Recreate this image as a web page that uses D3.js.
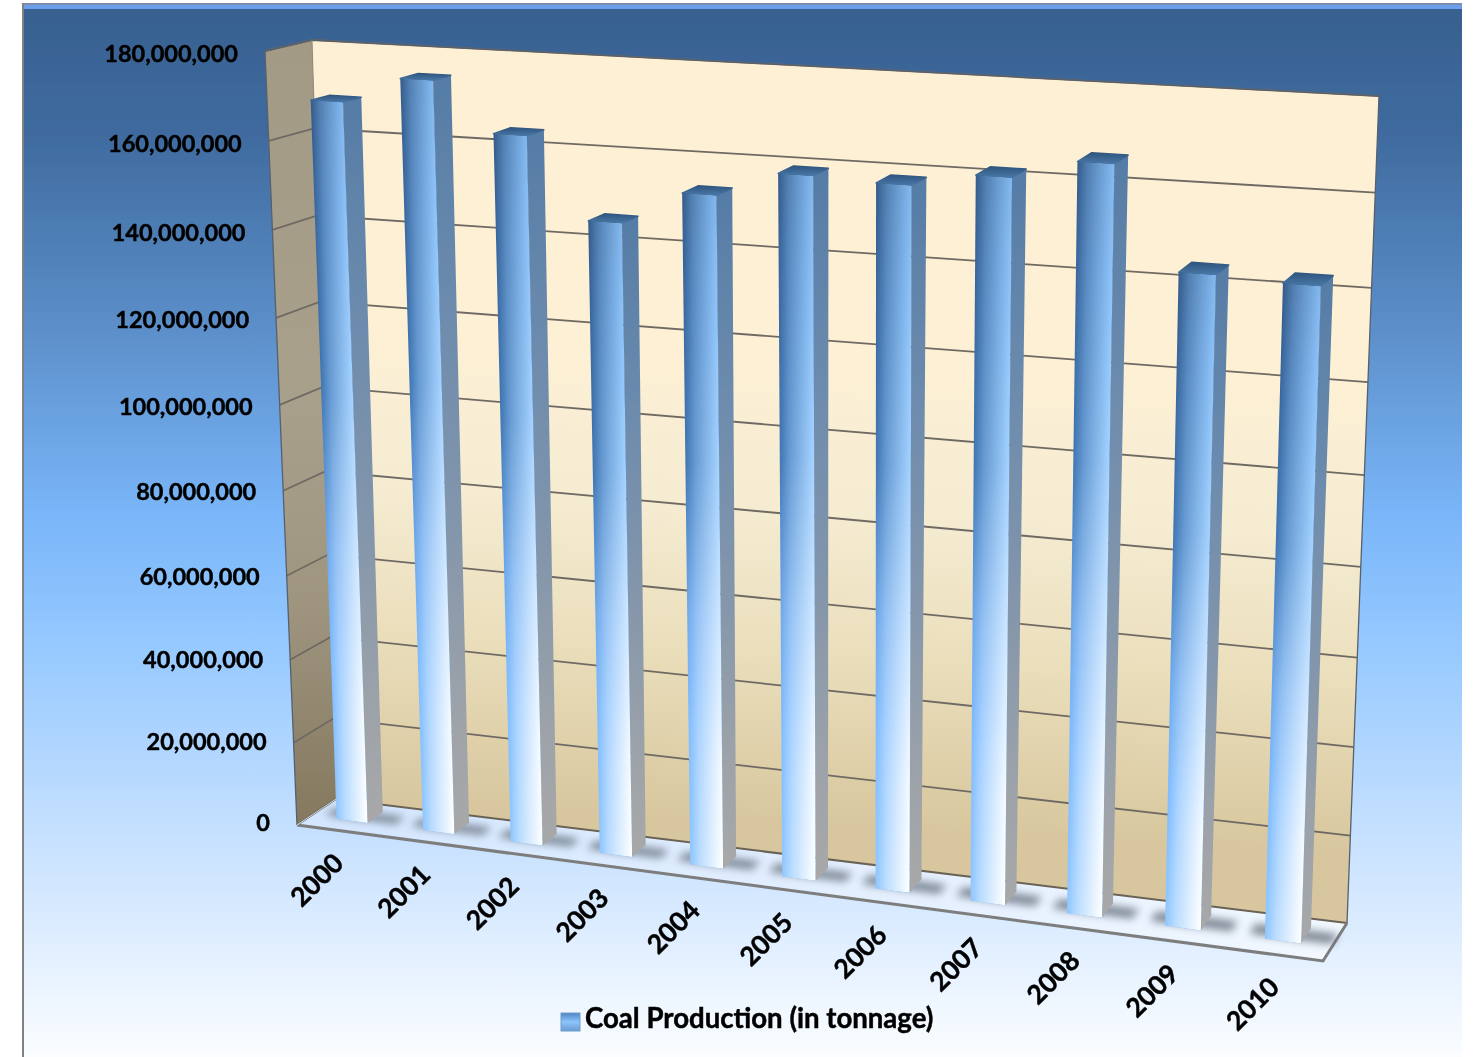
<!DOCTYPE html>
<html><head><meta charset="utf-8">
<script src="https://cdn.jsdelivr.net/npm/d3@7"></script>
<style>html,body{margin:0;padding:0;background:#fff;overflow:hidden}svg{display:block}
text{font-family:Lato,Carlito,sans-serif;font-weight:700;fill:#000;stroke:#000;stroke-width:.45px}</style>
</head><body><svg id="c" width="1477" height="1057"></svg>
<script>
const years = ["2000","2001","2002","2003","2004","2005","2006","2007","2008","2009","2010"];
const production = [168500000,174600000,163700000,145900000,153500000,159200000,158600000,161700000,166000000,144200000,143500000];
const yTicks = [0,20000000,40000000,60000000,80000000,100000000,120000000,140000000,160000000,180000000];
const seriesName = "Coal Production (in tonnage)";

const backQuad  = [[336,799],[1347,923],[1379,96],[312,40]];
const frontQuad = [[297,825],[1323,961],[1347,120],[265,51]];
const barDepth = [0.36,0.76];

function homography(q){
  const [[x0,y0],[x1,y1],[x2,y2],[x3,y3]] = q;
  const dx1=x1-x2, dx2=x3-x2, sx=x0-x1+x2-x3, dy1=y1-y2, dy2=y3-y2, sy=y0-y1+y2-y3;
  const den=dx1*dy2-dx2*dy1;
  const g=(sx*dy2-dx2*sy)/den, h=(dx1*sy-sx*dy1)/den;
  const a=x1-x0+g*x1, b=x3-x0+h*x3, d=y1-y0+g*y1, e=y3-y0+h*y3;
  return (u,v)=>{const w=g*u+h*v+1; return [(a*u+b*v+x0)/w,(d*u+e*v+y0)/w];};
}
const hBack=homography(backQuad), hFront=homography(frontQuad);
const P=(u,v,d)=>{const f=hFront(u,v),b=hBack(u,v);return [f[0]+(b[0]-f[0])*d,f[1]+(b[1]-f[1])*d];};

const xs=d3.scaleBand().domain(years).range([0,1]).paddingInner(0.64).paddingOuter(0.3);
const ys=d3.scaleLinear().domain([0,180000000]).range([0,1]);
const fmt=d3.format(",");
const pts=a=>a.map(p=>p.map(n=>n.toFixed(2)).join(",")).join(" ");

const svg=d3.select("#c"), defs=svg.append("defs");
function grad(id,stops,attrs){
  const g=defs.append("linearGradient").attr("id",id);
  Object.entries(attrs||{x1:0,y1:0,x2:0,y2:1}).forEach(([k,v])=>g.attr(k,v));
  stops.forEach(([o,c,op])=>{const s=g.append("stop").attr("offset",o).attr("stop-color",c); if(op!=null)s.attr("stop-opacity",op);});
  return `url(#${id})`;
}
function tilted(id,stops,tl,tr,bl){
  const dx=tr[0]-tl[0],dy=tr[1]-tl[1],L=Math.hypot(dx,dy),nx=-dy/L,ny=dx/L;
  const t=(bl[0]-tl[0])*nx+(bl[1]-tl[1])*ny;
  return grad(id,stops,{gradientUnits:"userSpaceOnUse",x1:tl[0],y1:tl[1],x2:tl[0]+nx*t,y2:tl[1]+ny*t});
}
const blur=defs.append("filter").attr("id","soft")
  .attr("filterUnits","userSpaceOnUse").attr("x",0).attr("y",0).attr("width",1477).attr("height",1057);
blur.append("feGaussianBlur").attr("stdDeviation",0.7);
defs.append("filter").attr("id","shadow").attr("filterUnits","userSpaceOnUse").attr("x",250).attr("y",760).attr("width",1150).attr("height",240)
  .append("feGaussianBlur").attr("stdDeviation",4.5);

// panel
const bg=grad("bg",[[0,"#37608f"],[0.12,"#3f6b9f"],[0.3,"#5b8ec8"],[0.48,"#79b5f8"],[0.6,"#94c8ff"],[0.8,"#c9e2ff"],[1,"#fbfdff"]]);
const root=svg.append("g").attr("filter","url(#soft)");
root.append("rect").attr("x",23).attr("y",9).attr("width",1439).attr("height",1048).attr("fill",bg);
root.append("rect").attr("x",22).attr("y",3).attr("width",1440).attr("height",2).attr("fill","#7d8cab");
root.append("rect").attr("x",23).attr("y",5).attr("width",1439).attr("height",4).attr("fill","#6a9fee");
root.append("rect").attr("x",22).attr("y",3).attr("width",2).attr("height",1054).attr("fill","#808080");

// walls
const wallBack=tilted("wb",[[0,"#fef0d5"],[0.38,"#fdf0d5"],[0.58,"#f5ecd2"],[0.78,"#eadebb"],[1,"#d8c79e"]],backQuad[3],backQuad[2],backQuad[0]);
root.append("polygon").attr("points",pts(backQuad)).attr("fill",wallBack);
const wallLeft=grad("wl",[[0,"#a39a86"],[0.45,"#a9a08c"],[0.72,"#9f957f"],[1,"#84785e"]]);
root.append("polygon").attr("points",pts([frontQuad[0],backQuad[0],backQuad[3],frontQuad[3]])).attr("fill",wallLeft);
const floorFill=grad("fl",[[0,"#d3e6ff"],[1,"#f2f8ff"]],{x1:0,y1:0,x2:1,y2:0});
root.append("polygon").attr("points",pts([frontQuad[0],frontQuad[1],backQuad[1],backQuad[0]])).attr("fill",floorFill);

// gridlines
yTicks.forEach(t=>{
  const v=ys(t);
  root.append("path").attr("d",d3.line()([P(0,v,0),P(0,v,1),P(1,v,1)]))
    .attr("fill","none").attr("stroke",t===0?"#6a6254":"#6e6a64").attr("stroke-width",t===0?2:1.8);
});
// frame edges
root.append("path").attr("d",d3.line()([P(0,0,0),P(0,1,0),P(0,1,1),P(1,1,1),P(1,0,1)])).attr("fill","none").attr("stroke","#56606e").attr("stroke-width",1.3);
root.append("path").attr("d",d3.line()([P(0,0,1),P(0,1,1)])).attr("fill","none").attr("stroke","#8d8676").attr("stroke-width",.8);
root.append("path").attr("d",d3.line()([P(0,0,0),P(1,0,0),P(1,0,1)])).attr("fill","none").attr("stroke","#7d7d7d").attr("stroke-width",3);
root.append("path").attr("d",d3.line()([P(0,0,0),P(0,0,1)])).attr("fill","none").attr("stroke","#cfe0f2").attr("stroke-width",1);

// bar shading
const frontL=grad("fL",[[0,"#345b8b"],[0.12,"#37649a"],[0.4,"#3f76b4"],[0.62,"#6ea9ec"],[0.78,"#7fbcff"],[1,"#8fc7ff"]]);
const frontR=grad("fR",[[0,"#80b6ec"],[0.15,"#8cc2f8"],[0.4,"#a3d1ff"],[0.65,"#d3e9ff"],[0.85,"#f5faff"],[1,"#ffffff"]]);
const side=grad("sd",[[0,"#557ca6"],[0.3,"#6c8bad"],[0.6,"#8496ab"],[0.85,"#9ea3a9"],[1,"#a8a8a8"]]);
const topF=grad("tp",[[0,"#2f567f"],[1,"#4a78a8"]]);

production.forEach((val,i)=>{
  const u0=xs(years[i]),u1=u0+xs.bandwidth(),[d0,d1]=barDepth;
  root.append("polygon").attr("class","shadow")
    .attr("points",pts([P(u0-0.016,0,d0+0.08),P(u1+0.026,0,d0+0.08),P(u1+0.026,0,d1-0.06),P(u0-0.016,0,d1-0.06)]))
    .attr("fill","#68727f").attr("opacity",0.85).attr("filter","url(#shadow)");
});
production.forEach((val,i)=>{
  const u0=xs(years[i]),u1=u0+xs.bandwidth(),[d0,d1]=barDepth,v=ys(val);
  const fl=P(u0,0,d0),fr=P(u1,0,d0),tl=P(u0,v,d0),tr=P(u1,v,d0),br=P(u1,0,d1),trb=P(u1,v,d1),tlb=P(u0,v,d1);
  const g=root.append("g").attr("class","bar");
  g.append("polygon").attr("points",pts([fr,br,trb,tr])).attr("fill",side);
  g.append("polygon").attr("points",pts([tl,tr,trb,tlb])).attr("fill",topF).attr("stroke",topF).attr("stroke-width",1.5).attr("stroke-linejoin","round");
  const poly=pts([fl,fr,tr,tl]);
  g.append("polygon").attr("points",poly).attr("fill",frontL);
  const ax=tl[0]-fl[0],ay=tl[1]-fl[1],L=Math.hypot(ax,ay),nx=-ay/L,ny=ax/L;
  const w=(fr[0]-fl[0])*nx+(fr[1]-fl[1])*ny;
  const hg=grad("h"+i,[[0,"#000"],[0.3,"#666"],[0.6,"#aaa"],[1,"#fff"]],
    {gradientUnits:"userSpaceOnUse",x1:fl[0],y1:fl[1],x2:fl[0]+nx*w,y2:fl[1]+ny*w});
  const m=defs.append("mask").attr("id","m"+i).attr("maskUnits","userSpaceOnUse").attr("x",0).attr("y",0).attr("width",1477).attr("height",1057);
  m.append("polygon").attr("points",poly).attr("fill",hg);
  g.append("polygon").attr("points",poly).attr("fill",frontR).attr("mask",`url(#m${i})`);
});

// value axis labels
yTicks.forEach(t=>{
  const v=ys(t),p=P(0,v,0);
  root.append("text").attr("x",p[0]-27).attr("y",p[1]+2-5*(1-v)*(1-v)).attr("text-anchor","end").attr("dominant-baseline","central")
    .attr("font-size",23.5).text(fmt(t));
});
// category labels
years.forEach(y=>{
  const p=P(xs(y)+xs.bandwidth()/2,0,0), x=p[0]-22, yy=p[1]+49;
  root.append("text").attr("transform",`translate(${x},${yy}) rotate(-45)`).attr("text-anchor","middle").attr("dominant-baseline","central")
    .attr("font-size",26.5).text(y);
});
// legend
const sw=grad("sw",[[0,"#4d86c4"],[0.5,"#8cc4fb"],[1,"#6a9cd0"]]);
root.append("rect").attr("x",561).attr("y",1013).attr("width",19).attr("height",18).attr("fill",sw).attr("stroke","#6f9ccc").attr("stroke-width",1);
root.append("text").attr("x",585).attr("y",1028).attr("font-size",27.6).text(seriesName);
</script></body></html>
